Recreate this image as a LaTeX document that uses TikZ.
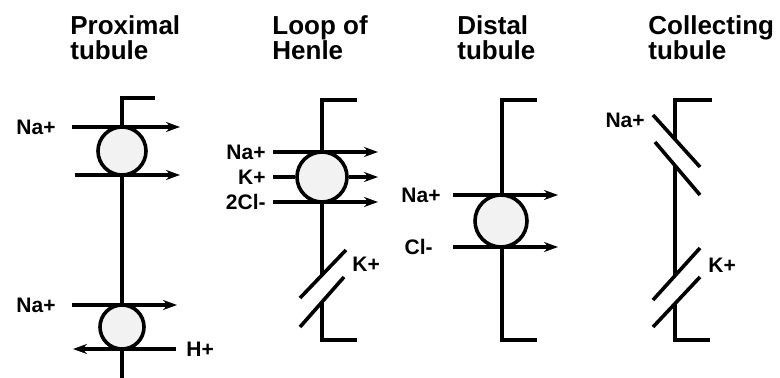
\documentclass[tikz,border=0pt]{standalone}
\usepackage{fontspec}
\setmainfont{Liberation Sans}
\usetikzlibrary{arrows.meta}
\tikzset{
    wall/.style={line width=1.8pt},
    pump/.style={circle, draw, line width=1.8pt, fill=gray!10, inner sep=0pt},
    ion/.style={font=\fontsize{10.5}{11}\selectfont\bfseries, inner sep=0pt},
    segment/.style={font=\fontsize{13}{12.5}\selectfont\bfseries, align=left,
        inner sep=0pt, anchor=north west},
    flow/.style={->, line width=1.8pt},
}
\begin{document}
\begin{tikzpicture}[x=0.5pt, y=-0.5pt, >={Stealth[length=7pt, width=5pt]}]
    \useasboundingbox (0,0) rectangle (780,378);
    \node[segment] (prox) at (70,15) {Proximal\\tubule};
    \node[segment] (loop) at (272,15) {Loop of\\Henle};
    \node[segment] (dist) at (457,15) {Distal\\tubule};
    \node[segment] (coll) at (648,15) {Collecting\\tubule};

    \draw[wall] (155,98) -- (122,98) -- (122,378);
    \node[pump, minimum size=24pt] (pc1) at (122,151) {};
    \node[pump, minimum size=22pt] (pc2) at (122,327) {};
    \node[ion, anchor=east] (pna1) at (56,127) {Na+};
    \node[ion, anchor=east] (pna2) at (56,305) {Na+};
    \node[ion, anchor=west] (ph) at (186,349) {H+};
    \coordinate (pna1e) at (180,127);
    \coordinate (pout1s) at (75,175);
    \coordinate (pout1e) at (180,175);
    \coordinate (pna2e) at (177,305);
    \coordinate (phe) at (73,349);
    \draw[flow, shorten <=8pt] (pna1.east) -- (pna1e);
    \draw[flow] (pout1s) -- (pout1e);
    \draw[flow, shorten <=8pt] (pna2.east) -- (pna2e);
    \draw[flow, shorten <=5pt] (ph.west) -- (phe);

    \draw[wall] (357,100) -- (322,100) -- (322,275);
    \draw[wall] (300,298) -- (346,250);
    \draw[wall] (300,327) -- (344,277);
    \draw[wall] (322,302) -- (322,340) -- (357,340);
    \node[pump, minimum size=25pt] (lc) at (322,177) {};
    \node[ion, anchor=east] (lna) at (266,152) {Na+};
    \node[ion, anchor=east] (lk) at (266,177) {K+};
    \node[ion, anchor=east] (lcl) at (266,202) {2Cl-};
    \node[ion, anchor=west] (lk2) at (352,264) {K+};
    \coordinate (lnae) at (378,152);
    \coordinate (lke) at (378,177);
    \coordinate (lcle) at (378,202);
    \draw[flow, shorten <=3.5pt] (lna.east) -- (lnae);
    \draw[wall, shorten <=3.5pt] (lk.east) -- (lc.west);
    \draw[flow] (lc.east) -- (lke);
    \draw[flow, shorten <=3.5pt] (lcl.east) -- (lcle);

    \draw[wall] (537,100) -- (502,100) -- (502,340) -- (537,340);
    \node[pump, minimum size=26pt] (dc) at (501,221) {};
    \node[ion, anchor=east] (dna) at (441,195) {Na+};
    \node[ion, anchor=east] (dcl) at (433,247) {Cl-};
    \coordinate (dnae) at (558,195);
    \coordinate (dcle) at (558,247);
    \draw[flow, shorten <=6pt] (dna.east) -- (dnae);
    \draw[flow, shorten <=10pt] (dcl.east) -- (dcle);

    \draw[wall] (712,100) -- (675,100) -- (675,139);
    \draw[wall] (653,115) -- (700,167);
    \draw[wall] (655,142) -- (700,195);
    \draw[wall] (675,165) -- (675,276);
    \draw[wall] (653,300) -- (700,248);
    \draw[wall] (653,327) -- (700,277);
    \draw[wall] (675,303) -- (675,340) -- (710,340);
    \node[ion, anchor=east] (cna) at (645,120) {Na+};
    \node[ion, anchor=west] (ck) at (708,265) {K+};
\end{tikzpicture}
\end{document}
